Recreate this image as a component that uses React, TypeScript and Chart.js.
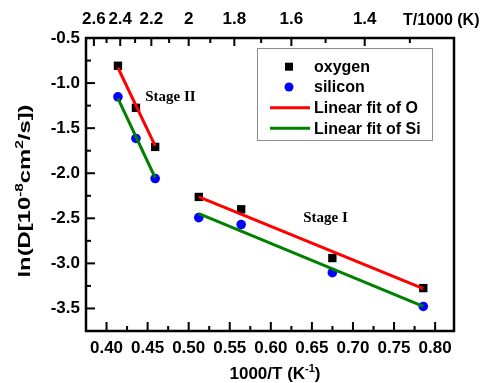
import React, { useEffect, useRef } from "react";
import { Chart, registerables } from "chart.js";

Chart.register(...registerables);

// ---- data ----
const invT: number[] = [0.4139, 0.4358, 0.4592, 0.5123, 0.5639, 0.6749, 0.7856];
const oxygen: number[] = [-0.808, -1.274, -1.708, -2.263, -2.40, -2.941, -3.274];
const silicon: number[] = [-1.152, -1.614, -2.059, -2.492, -2.57, -3.103, -3.478];

// fit line end points
const fitX_II: number[] = [0.4139, 0.4592];
const fitO_II: number[] = [-0.83, -1.697];
const fitSi_II: number[] = [-1.17, -2.05];
const fitX_I: number[] = [0.5123, 0.7856];
const fitO_I: number[] = [-2.263, -3.28];
const fitSi_I: number[] = [-2.448, -3.478];

// axes
const xMin = 0.375;
const xMax = 0.823;
const yMin = -3.75;
const yMax = -0.5;
const xTicks: number[] = [0.4, 0.45, 0.5, 0.55, 0.6, 0.65, 0.7, 0.75, 0.8];
const xMinor: number[] = [0.425, 0.475, 0.525, 0.575, 0.625, 0.675, 0.725, 0.775];
const yTicks: number[] = [-3.5, -3.0, -2.5, -2.0, -1.5, -1.0, -0.5];
const yMinor: number[] = [-3.25, -2.75, -2.25, -1.75, -1.25, -0.75];
const topLabels: string[] = ["2.6", "2.4", "2.2", "2", "1.8", "1.6", "1.4"];
const topValues: number[] = [2.6, 2.4, 2.2, 2.0, 1.8, 1.6, 1.4];
const topMinorValues: number[] = [2.5, 2.3, 2.1, 1.9, 1.7, 1.5, 1.3];

// annotations
const stageLabels: string[] = ["Stage II", "Stage I"];
const stageX: number[] = [0.447, 0.6394];
const stageY: number[] = [-1.156, -2.5];

const legendLabels: string[] = ["oxygen", "silicon", "Linear fit of O", "Linear fit of Si"];

const SANS = "'Liberation Sans', Arial, sans-serif";
const SERIF = "'Liberation Serif', 'Times New Roman', serif";

const pts = (xs: number[], ys: number[]) => xs.map((x, i) => ({ x, y: ys[i] }));

type Part = { t: string; sup?: boolean };

function drawRich(ctx: CanvasRenderingContext2D, parts: Part[], cx: number, cy: number, size: number) {
  const supSize = Math.round(size * 0.65);
  let total = 0;
  const widths = parts.map((p) => {
    ctx.font = `bold ${p.sup ? supSize : size}px ${SANS}`;
    const w = ctx.measureText(p.t).width;
    total += w;
    return w;
  });
  let x = cx - total / 2;
  ctx.textBaseline = "alphabetic";
  ctx.textAlign = "left";
  const base = cy + size * 0.35;
  parts.forEach((p, i) => {
    ctx.font = `bold ${p.sup ? supSize : size}px ${SANS}`;
    ctx.fillText(p.t, x, p.sup ? base - size * 0.42 : base);
    x += widths[i];
  });
}

const framePlugin = {
  id: "frame",
  afterDraw(chart: any) {
    const ctx: CanvasRenderingContext2D = chart.ctx;
    const { left, right, top, bottom } = chart.chartArea;
    const xs = chart.scales.x;
    const ys = chart.scales.y;
    ctx.save();
    ctx.strokeStyle = "#000";
    ctx.fillStyle = "#000";
    // ticks
    ctx.lineWidth = 2;
    const vt = (px: number, y0: number, len: number) => {
      ctx.beginPath();
      ctx.moveTo(px, y0);
      ctx.lineTo(px, y0 + len);
      ctx.stroke();
    };
    const ht = (py: number, x0: number, len: number) => {
      ctx.beginPath();
      ctx.moveTo(x0, py);
      ctx.lineTo(x0 + len, py);
      ctx.stroke();
    };
    xTicks.forEach((v) => vt(xs.getPixelForValue(v), bottom, -9));
    xMinor.forEach((v) => vt(xs.getPixelForValue(v), bottom, -5));
    yTicks.forEach((v) => ht(ys.getPixelForValue(v), left, 9));
    yMinor.forEach((v) => ht(ys.getPixelForValue(v), left, 5));
    topValues.forEach((v) => vt(xs.getPixelForValue(1 / v), top, 8));
    topMinorValues.forEach((v) => vt(xs.getPixelForValue(1 / v), top, 5));
    // border
    ctx.lineWidth = 2.5;
    ctx.strokeRect(left, top, right - left, bottom - top);

    // legend
    const lx0 = 257, ly0 = 48, lx1 = 432, ly1 = 140;
    ctx.lineWidth = 1;
    ctx.strokeStyle = "#8c8c8c";
    ctx.strokeRect(lx0 + 0.5, ly0 + 0.5, lx1 - lx0, ly1 - ly0);
    const rows = [66.7, 87, 107.7, 128.3];
    const mx = 289;
    ctx.fillStyle = "#000";
    ctx.fillRect(mx - 4, rows[0] - 4, 8, 8);
    ctx.fillStyle = "#0000ff";
    ctx.beginPath();
    ctx.arc(mx, rows[1], 4.5, 0, Math.PI * 2);
    ctx.fill();
    ctx.lineWidth = 3;
    ctx.strokeStyle = "#ff0000";
    ctx.beginPath();
    ctx.moveTo(270, rows[2]);
    ctx.lineTo(310, rows[2]);
    ctx.stroke();
    ctx.strokeStyle = "#008000";
    ctx.beginPath();
    ctx.moveTo(270, rows[3]);
    ctx.lineTo(310, rows[3]);
    ctx.stroke();
    ctx.fillStyle = "#000";
    ctx.font = `bold 16px ${SANS}`;
    ctx.textAlign = "left";
    ctx.textBaseline = "middle";
    legendLabels.forEach((t, i) => ctx.fillText(t, 314, rows[i] + 1));

    // stage labels
    ctx.font = `bold 15px ${SERIF}`;
    stageLabels.forEach((t, i) => {
      ctx.fillText(t, xs.getPixelForValue(stageX[i]), ys.getPixelForValue(stageY[i]));
    });

    // top axis title
    ctx.font = `bold 16px ${SANS}`;
    ctx.fillText("T/1000 (K)", 403, 21);

    // x title
    drawRich(ctx, [{ t: "1000/T (K" }, { t: "-1", sup: true }, { t: ")" }], (left + right) / 2 + 5, 373, 17);

    // y title (stretched along its length, as in the reference)
    ctx.save();
    ctx.translate(24, 191);
    ctx.rotate(-Math.PI / 2);
    ctx.scale(1.4, 1);
    drawRich(
      ctx,
      [{ t: "ln(D[10" }, { t: "-8", sup: true }, { t: "cm" }, { t: "2", sup: true }, { t: "/s])" }],
      0,
      0,
      17
    );
    ctx.restore();
    ctx.restore();
  },
};

export default function App() {
  const ref = useRef<HTMLCanvasElement | null>(null);
  useEffect(() => {
    document.body.style.margin = "0";
    if (!ref.current) return;
    const tickFont = { family: SANS, size: 17, weight: "bold" as const };
    const chart = new Chart(ref.current, {
      type: "scatter",
      data: {
        datasets: [
          { type: "line", label: "fitO_II", data: pts(fitX_II, fitO_II), borderColor: "#ff0000", borderWidth: 3, pointRadius: 0, fill: false },
          { type: "line", label: "fitO_I", data: pts(fitX_I, fitO_I), borderColor: "#ff0000", borderWidth: 3, pointRadius: 0, fill: false },
          { type: "line", label: "fitSi_II", data: pts(fitX_II, fitSi_II), borderColor: "#008000", borderWidth: 3, pointRadius: 0, fill: false },
          { type: "line", label: "fitSi_I", data: pts(fitX_I, fitSi_I), borderColor: "#008000", borderWidth: 3, pointRadius: 0, fill: false },
          { label: "oxygen", data: pts(invT, oxygen), pointStyle: "rect", pointRadius: 5.9, backgroundColor: "#000", borderColor: "#000", borderWidth: 0 },
          { label: "silicon", data: pts(invT, silicon), pointStyle: "circle", pointRadius: 4.8, backgroundColor: "#0000ff", borderColor: "#0000ff", borderWidth: 0 },
        ] as any,
      },
      options: {
        animation: false,
        responsive: false,
        layout: { padding: { left: 0, right: 31, top: 0, bottom: 0 } },
        plugins: { legend: { display: false }, tooltip: { enabled: false } },
        scales: {
          x: {
            type: "linear",
            position: "bottom",
            min: xMin,
            max: xMax,
            grid: { display: false, drawTicks: false },
            border: { display: false },
            afterBuildTicks: (s: any) => { s.ticks = xTicks.map((v) => ({ value: v })); },
            afterFit: (s: any) => { s.height = 52; },
            ticks: { font: tickFont, color: "#000", padding: 7, autoSkip: false, maxRotation: 0, callback: (v: any) => Number(v).toFixed(2) },
          },
          x2: {
            type: "linear",
            position: "top",
            min: xMin,
            max: xMax,
            grid: { display: false, drawTicks: false },
            border: { display: false },
            afterBuildTicks: (s: any) => { s.ticks = topValues.map((v) => ({ value: 1 / v })); },
            afterFit: (s: any) => { s.height = 38; },
            ticks: { font: tickFont, color: "#000", padding: 8, autoSkip: false, maxRotation: 0, callback: (_v: any, i: number) => topLabels[i] },
          },
          y: {
            type: "linear",
            position: "left",
            min: yMin,
            max: yMax,
            grid: { display: false, drawTicks: false },
            border: { display: false },
            afterBuildTicks: (s: any) => { s.ticks = yTicks.map((v) => ({ value: v })); },
            afterFit: (s: any) => { s.width = 86; },
            ticks: { font: tickFont, color: "#000", padding: 6, autoSkip: false, callback: (v: any) => Number(v).toFixed(1) },
          },
        },
      } as any,
      plugins: [framePlugin],
    });
    return () => chart.destroy();
  }, []);
  return <canvas ref={ref} width={485} height={383} style={{ display: "block" }} />;
}
